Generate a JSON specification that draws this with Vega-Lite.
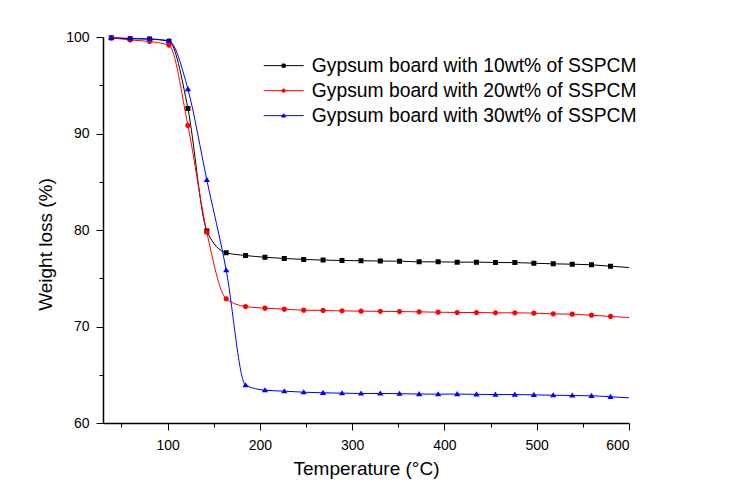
{
  "$schema": "https://vega.github.io/schema/vega-lite/v6.json",
  "width": 526,
  "height": 386,
  "autosize": "none",
  "padding": {"left": 103, "top": 37, "right": 104, "bottom": 76},
  "background": "white",
  "config": {
    "view": {"stroke": null},
    "font": "Liberation Sans",
    "axis": {
      "grid": false,
      "domainColor": "black",
      "domainWidth": 1.5,
      "tickColor": "black",
      "tickWidth": 1,
      "labelColor": "black",
      "labelFont": "Liberation Sans",
      "labelFontSize": 14,
      "titleFont": "Liberation Sans",
      "titleFontSize": 19,
      "titleFontWeight": "normal",
      "titleColor": "black"
    },
    "legend": {
      "title": null,
      "orient": "none",
      "legendX": 171,
      "legendY": 19,
      "symbolSize": 256,
      "labelFontSize": 19.3,
      "labelFont": "Liberation Sans",
      "labelColor": "black",
      "labelOffset": 18.5,
      "rowPadding": 5,
      "padding": 0,
      "symbolStrokeWidth": 1,
      "labelLimit": 500
    }
  },
  "datasets": {
    "curves": [
      {"series": "Gypsum board with 10wt% of SSPCM", "T": 39, "W": 99.92},
      {"series": "Gypsum board with 10wt% of SSPCM", "T": 59.5, "W": 99.82},
      {"series": "Gypsum board with 10wt% of SSPCM", "T": 80.5, "W": 99.78},
      {"series": "Gypsum board with 10wt% of SSPCM", "T": 101.5, "W": 99.55},
      {"series": "Gypsum board with 10wt% of SSPCM", "T": 122, "W": 92.6},
      {"series": "Gypsum board with 10wt% of SSPCM", "T": 142.5, "W": 79.9},
      {"series": "Gypsum board with 10wt% of SSPCM", "T": 163.5, "W": 77.64},
      {"series": "Gypsum board with 10wt% of SSPCM", "T": 184.5, "W": 77.36},
      {"series": "Gypsum board with 10wt% of SSPCM", "T": 205.5, "W": 77.17},
      {"series": "Gypsum board with 10wt% of SSPCM", "T": 226.5, "W": 77.05},
      {"series": "Gypsum board with 10wt% of SSPCM", "T": 247.5, "W": 76.95},
      {"series": "Gypsum board with 10wt% of SSPCM", "T": 268.5, "W": 76.88},
      {"series": "Gypsum board with 10wt% of SSPCM", "T": 289, "W": 76.84},
      {"series": "Gypsum board with 10wt% of SSPCM", "T": 309.6, "W": 76.82},
      {"series": "Gypsum board with 10wt% of SSPCM", "T": 330.5, "W": 76.78},
      {"series": "Gypsum board with 10wt% of SSPCM", "T": 351.3, "W": 76.77},
      {"series": "Gypsum board with 10wt% of SSPCM", "T": 372.6, "W": 76.7},
      {"series": "Gypsum board with 10wt% of SSPCM", "T": 393.2, "W": 76.7},
      {"series": "Gypsum board with 10wt% of SSPCM", "T": 413.8, "W": 76.67},
      {"series": "Gypsum board with 10wt% of SSPCM", "T": 434.7, "W": 76.67},
      {"series": "Gypsum board with 10wt% of SSPCM", "T": 455.3, "W": 76.63},
      {"series": "Gypsum board with 10wt% of SSPCM", "T": 476.3, "W": 76.62},
      {"series": "Gypsum board with 10wt% of SSPCM", "T": 496.9, "W": 76.56},
      {"series": "Gypsum board with 10wt% of SSPCM", "T": 517.9, "W": 76.49},
      {"series": "Gypsum board with 10wt% of SSPCM", "T": 538.5, "W": 76.46},
      {"series": "Gypsum board with 10wt% of SSPCM", "T": 559.4, "W": 76.39},
      {"series": "Gypsum board with 10wt% of SSPCM", "T": 580, "W": 76.25},
      {"series": "Gypsum board with 10wt% of SSPCM", "T": 600, "W": 76.11},
      {"series": "Gypsum board with 20wt% of SSPCM", "T": 39, "W": 99.9},
      {"series": "Gypsum board with 20wt% of SSPCM", "T": 59.5, "W": 99.7},
      {"series": "Gypsum board with 20wt% of SSPCM", "T": 80.5, "W": 99.53},
      {"series": "Gypsum board with 20wt% of SSPCM", "T": 101.5, "W": 99.15},
      {"series": "Gypsum board with 20wt% of SSPCM", "T": 122, "W": 90.83},
      {"series": "Gypsum board with 20wt% of SSPCM", "T": 142.5, "W": 79.77},
      {"series": "Gypsum board with 20wt% of SSPCM", "T": 163.5, "W": 72.87},
      {"series": "Gypsum board with 20wt% of SSPCM", "T": 184.5, "W": 72.07},
      {"series": "Gypsum board with 20wt% of SSPCM", "T": 205.5, "W": 71.9},
      {"series": "Gypsum board with 20wt% of SSPCM", "T": 226.5, "W": 71.8},
      {"series": "Gypsum board with 20wt% of SSPCM", "T": 247.5, "W": 71.69},
      {"series": "Gypsum board with 20wt% of SSPCM", "T": 268.5, "W": 71.66},
      {"series": "Gypsum board with 20wt% of SSPCM", "T": 289, "W": 71.62},
      {"series": "Gypsum board with 20wt% of SSPCM", "T": 309.6, "W": 71.59},
      {"series": "Gypsum board with 20wt% of SSPCM", "T": 330.5, "W": 71.57},
      {"series": "Gypsum board with 20wt% of SSPCM", "T": 351.3, "W": 71.55},
      {"series": "Gypsum board with 20wt% of SSPCM", "T": 372.6, "W": 71.52},
      {"series": "Gypsum board with 20wt% of SSPCM", "T": 393.2, "W": 71.48},
      {"series": "Gypsum board with 20wt% of SSPCM", "T": 413.8, "W": 71.45},
      {"series": "Gypsum board with 20wt% of SSPCM", "T": 434.7, "W": 71.45},
      {"series": "Gypsum board with 20wt% of SSPCM", "T": 455.3, "W": 71.42},
      {"series": "Gypsum board with 20wt% of SSPCM", "T": 476.3, "W": 71.42},
      {"series": "Gypsum board with 20wt% of SSPCM", "T": 496.9, "W": 71.38},
      {"series": "Gypsum board with 20wt% of SSPCM", "T": 517.9, "W": 71.31},
      {"series": "Gypsum board with 20wt% of SSPCM", "T": 538.5, "W": 71.28},
      {"series": "Gypsum board with 20wt% of SSPCM", "T": 559.4, "W": 71.17},
      {"series": "Gypsum board with 20wt% of SSPCM", "T": 580, "W": 71.04},
      {"series": "Gypsum board with 20wt% of SSPCM", "T": 600, "W": 70.93},
      {"series": "Gypsum board with 30wt% of SSPCM", "T": 39, "W": 99.92},
      {"series": "Gypsum board with 30wt% of SSPCM", "T": 59.5, "W": 99.85},
      {"series": "Gypsum board with 30wt% of SSPCM", "T": 80.5, "W": 99.8},
      {"series": "Gypsum board with 30wt% of SSPCM", "T": 101.5, "W": 99.6},
      {"series": "Gypsum board with 30wt% of SSPCM", "T": 122, "W": 94.6},
      {"series": "Gypsum board with 30wt% of SSPCM", "T": 142.5, "W": 85.2},
      {"series": "Gypsum board with 30wt% of SSPCM", "T": 163.5, "W": 75.83},
      {"series": "Gypsum board with 30wt% of SSPCM", "T": 184.5, "W": 63.92},
      {"series": "Gypsum board with 30wt% of SSPCM", "T": 205.5, "W": 63.4},
      {"series": "Gypsum board with 30wt% of SSPCM", "T": 226.5, "W": 63.3},
      {"series": "Gypsum board with 30wt% of SSPCM", "T": 247.5, "W": 63.19},
      {"series": "Gypsum board with 30wt% of SSPCM", "T": 268.5, "W": 63.13},
      {"series": "Gypsum board with 30wt% of SSPCM", "T": 289, "W": 63.09},
      {"series": "Gypsum board with 30wt% of SSPCM", "T": 309.6, "W": 63.06},
      {"series": "Gypsum board with 30wt% of SSPCM", "T": 330.5, "W": 63.06},
      {"series": "Gypsum board with 30wt% of SSPCM", "T": 351.3, "W": 63.04},
      {"series": "Gypsum board with 30wt% of SSPCM", "T": 372.6, "W": 63.0},
      {"series": "Gypsum board with 30wt% of SSPCM", "T": 393.2, "W": 62.99},
      {"series": "Gypsum board with 30wt% of SSPCM", "T": 413.8, "W": 63.0},
      {"series": "Gypsum board with 30wt% of SSPCM", "T": 434.7, "W": 62.97},
      {"series": "Gypsum board with 30wt% of SSPCM", "T": 455.3, "W": 62.95},
      {"series": "Gypsum board with 30wt% of SSPCM", "T": 476.3, "W": 62.95},
      {"series": "Gypsum board with 30wt% of SSPCM", "T": 496.9, "W": 62.92},
      {"series": "Gypsum board with 30wt% of SSPCM", "T": 517.9, "W": 62.88},
      {"series": "Gypsum board with 30wt% of SSPCM", "T": 538.5, "W": 62.85},
      {"series": "Gypsum board with 30wt% of SSPCM", "T": 559.4, "W": 62.82},
      {"series": "Gypsum board with 30wt% of SSPCM", "T": 580, "W": 62.72},
      {"series": "Gypsum board with 30wt% of SSPCM", "T": 600, "W": 62.61}
    ]
  },
  "data": {"name": "curves"},
  "layer": [
    {
      "mark": {"type": "line", "interpolate": "monotone", "strokeWidth": 1},
      "encoding": {
        "x": {
          "field": "T", "type": "quantitative",
          "scale": {"domain": [30, 600], "nice": false, "zero": false},
          "axis": {"orient": "bottom", "values": [100, 200, 300, 400, 500, 600], "tickSize": 7, "labelPadding": 8, "title": "Temperature (°C)", "titlePadding": 7}
        },
        "y": {
          "field": "W", "type": "quantitative",
          "scale": {"domain": [60, 100], "nice": false, "zero": false},
          "axis": {"orient": "left", "values": [60, 70, 80, 90, 100], "tickSize": 7, "labelPadding": 7, "title": "Weight loss (%)", "titlePadding": 10, "titleY": 207}
        },
        "color": {
          "field": "series", "type": "nominal",
          "scale": {"domain": ["Gypsum board with 10wt% of SSPCM", "Gypsum board with 20wt% of SSPCM", "Gypsum board with 30wt% of SSPCM"], "range": ["#000000", "#ff0000", "#0000ff"]}
        }
      }
    },
    {
      "transform": [{"filter": "datum.T < 590"}],
      "mark": {"type": "point", "filled": true, "size": 625, "opacity": 1, "strokeWidth": 0},
      "encoding": {
        "x": {
          "field": "T", "type": "quantitative",
          "axis": {"orient": "bottom", "values": [50, 150, 250, 350, 450, 550], "tickSize": 4, "labels": false, "domain": false, "title": null}
        },
        "y": {
          "field": "W", "type": "quantitative",
          "axis": {"orient": "left", "values": [65, 75, 85, 95], "tickSize": 4, "labels": false, "domain": false, "title": null}
        },
        "color": {"field": "series", "type": "nominal"},
        "shape": {
          "field": "series", "type": "nominal",
          "scale": {"domain": ["Gypsum board with 10wt% of SSPCM", "Gypsum board with 20wt% of SSPCM", "Gypsum board with 30wt% of SSPCM"], "range": ["M-2.5,0H2.5M-0.2,-0.2H0.2V0.2H-0.2Z", "M-2.5,0H2.5M-0.21,0A0.21,0.21,0,1,0,0.21,0A0.21,0.21,0,1,0,-0.21,0Z", "M-2.5,0H2.5M0,-0.24L0.25,0.17H-0.25Z"]},
          "legend": {"encode": {"symbols": {"update": {"strokeWidth": {"value": 1}, "stroke": {"scale": "color", "field": "value"}}}}}
        }
      }
    }
  ],
  "resolve": {"axis": {"x": "independent", "y": "independent"}}
}
